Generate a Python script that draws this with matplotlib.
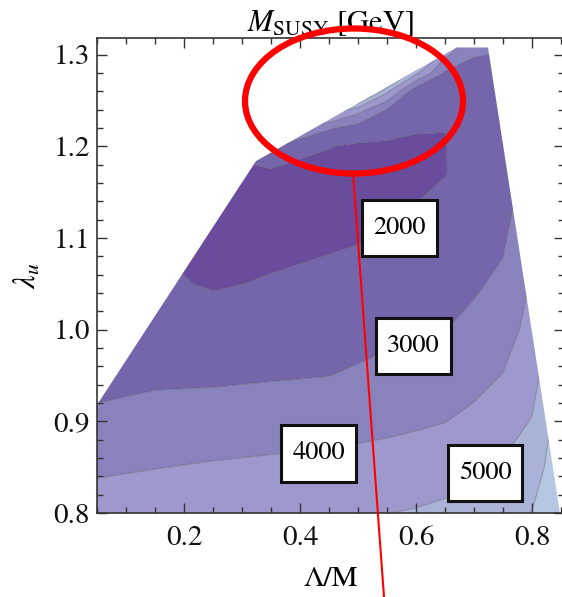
import numpy as np
import matplotlib.pyplot as plt
from matplotlib.patches import Polygon, Ellipse
from matplotlib.lines import Line2D
from matplotlib.ticker import MultipleLocator, FormatStrFormatter

plt.rcParams['font.family'] = 'STIXGeneral'
plt.rcParams['mathtext.fontset'] = 'stix'

# grid of the scan: Lambda/M (columns) and lambda_u (rows)
lam_ratio = [0.05, 0.15, 0.25, 0.35, 0.45, 0.50, 0.55, 0.60, 0.65, 0.70, 0.75, 0.80, 0.85]
lam_u = [0.80, 0.85, 0.90, 0.95, 1.00, 1.05, 1.10, 1.14, 1.17, 1.20, 1.22, 1.24, 1.26, 1.28, 1.30, 1.32]

# M_SUSY in GeV, one row per lambda_u value
m_susy = np.array([
    [4470, 4600, 4710, 4800, 4900, 4950, 4990, 5070, 5190, 5420, 5720, 6030, 6800],
    [3850, 3975, 4090, 4180, 4280, 4310, 4350, 4460, 4590, 4820, 5110, 5520, 6660],
    [3240, 3350, 3440, 3530, 3640, 3710, 3800, 3880, 3980, 4220, 4570, 5050, 6500],
    [2640, 2835, 2850, 2920, 2990, 3110, 3240, 3360, 3480, 3700, 4030, 4670, 6000],
    [2250, 2460, 2390, 2490, 2610, 2690, 2800, 2900, 2990, 3240, 3610, 4300, 5500],
    [2050, 2140, 1930, 2060, 2220, 2310, 2450, 2580, 2700, 2880, 3190, 4100, 5000],
    [1950, 1950, 1780, 1800, 1880, 1950, 2100, 2260, 2410, 2630, 2860, 4000, 4500],
    [1950, 1900, 1760, 1720, 1720, 1760, 1830, 1990, 2170, 2430, 2680, 3500, 4200],
    [1950, 1900, 1800, 1750, 1760, 1780, 1800, 1880, 1980, 2300, 2580, 3300, 4000],
    [2000, 1950, 2100, 3100, 2030, 1870, 1850, 1920, 1985, 2250, 2520, 3200, 3800],
    [2000, 2000, 2300, 4500, 3100, 2570, 2320, 2040, 2005, 2260, 2520, 3150, 3700],
    [2000, 2100, 2500, 6000, 6000, 4400, 2950, 2150, 2330, 2350, 2550, 3100, 3600],
    [2000, 2200, 2600, 7000, 8000, 9000, 5200, 2270, 2600, 2500, 2650, 3100, 3600],
    [2000, 2300, 2700, 7500, 8500, 9500, 9000, 5200, 2850, 2700, 2800, 3100, 3600],
    [2000, 2400, 2800, 8000, 8500, 9500, 9500, 10000, 4200, 3050, 2950, 3200, 3600],
    [2000, 2500, 2900, 8000, 8500, 9500, 9500, 10000, 6000, 3500, 3400, 3500, 3600],
])

# allowed parameter region (outside it no solution)
region_x = [0.05, 0.05, 0.324, 0.670, 0.724, 0.848]
region_y = [0.80, 0.918, 1.184, 1.308, 1.308, 0.80]

levels = [0, 2000, 3000, 4000, 5000, 6000, 7000, 12000]
band_colors = ['#6a4c9c', '#7565aa', '#8a82bd', '#9e99cc', '#a9b2d7', '#b6c7e4', '#c4d6ec']

# contour labels
label_values = [2000, 3000, 4000, 5000]
label_x = [0.572, 0.596, 0.432, 0.719]
label_y = [1.111, 0.982, 0.865, 0.844]

fig = plt.figure(figsize=(5.62, 5.97), dpi=100)
ax = fig.add_axes([97 / 562, 84 / 597, 467 / 562, 474.7 / 597])

region = Polygon(np.column_stack([region_x, region_y]), closed=True,
                 fc='none', ec='none')
ax.add_patch(region)

cf = ax.contourf(lam_ratio, lam_u, m_susy, levels=levels, colors=band_colors,
                 antialiased=True)
cf.set_clip_path(region)
cl = ax.contour(lam_ratio, lam_u, m_susy, levels=levels[1:-1],
                colors='#4a4a5a', linewidths=0.7, alpha=0.45)
cl.set_clip_path(region)

for v, lx, ly in zip(label_values, label_x, label_y):
    ax.text(lx, ly, str(v), ha='center', va='center', fontsize=19, zorder=5,
            bbox=dict(boxstyle='square,pad=0.42', mutation_aspect=1.45,
                      fc='white', ec='#111111', lw=2.2))

ax.set_xlim(0.05, 0.855)
ax.set_ylim(0.80, 1.318)
ax.set_xticks([0.2, 0.4, 0.6, 0.8])
ax.set_yticks([0.8, 0.9, 1.0, 1.1, 1.2, 1.3])
ax.xaxis.set_minor_locator(MultipleLocator(0.05))
ax.yaxis.set_minor_locator(MultipleLocator(0.02))
ax.xaxis.set_major_formatter(FormatStrFormatter('%.1f'))
ax.yaxis.set_major_formatter(FormatStrFormatter('%.1f'))
ax.tick_params(which='both', direction='in', top=True, right=True,
               color='#333333', width=1.0, labelsize=21, labelcolor='#111111')
ax.tick_params(which='major', length=7)
ax.tick_params(which='minor', length=4)
ax.tick_params(axis='x', pad=9)
ax.tick_params(axis='y', pad=5)
for s in ax.spines.values():
    s.set_color('#333333')
    s.set_linewidth(1.2)

ax.set_title(r'$M_{\mathrm{SUSY}}$ [GeV]', fontsize=22, pad=2)
ax.set_xlabel('Λ/M', fontsize=21, labelpad=12)
ax.set_ylabel(r'$\lambda_u$', fontsize=22, labelpad=8)

# highlight of the upper edge and pointer line
fig.add_artist(Ellipse((354 / 562, 1 - 101 / 597), 218 / 562, 145 / 597,
                       transform=fig.transFigure, fill=False, ec='red', lw=4.5))
fig.add_artist(Line2D([353 / 562, 384 / 562], [1 - 173 / 597, 0.0],
                      transform=fig.transFigure, color='red', lw=1.5))

fig.savefig('out.png', dpi=100)
